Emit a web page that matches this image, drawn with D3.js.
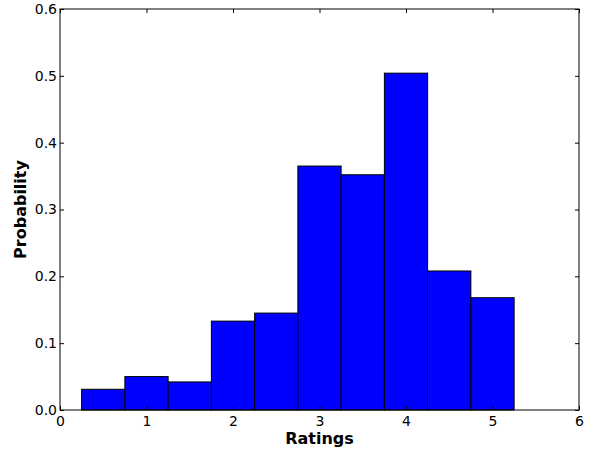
<!DOCTYPE html>
<html>
<head>
<meta charset="utf-8">
<script src="https://cdn.jsdelivr.net/npm/d3@7"></script>
<style>
  body { margin: 0; background: #fff; }
  svg { display: block; }
  text { font-family: "DejaVu Sans", sans-serif; }
</style>
</head>
<body>
<svg id="chart" width="595" height="450"></svg>
<script>
// Histogram of ratings: bin centres and normalised probabilities
const binCenters = [0.5, 1, 1.5, 2, 2.5, 3, 3.5, 4, 4.5, 5];
const probabilities = [0.031, 0.050, 0.042, 0.133, 0.145, 0.365, 0.352, 0.504, 0.208, 0.168];
const binWidth = 0.5;
const xTicks = [0, 1, 2, 3, 4, 5, 6];
const yTicks = [0.0, 0.1, 0.2, 0.3, 0.4, 0.5, 0.6];

const svg = d3.select("#chart");
const m = { left: 60, right: 16, top: 9, bottom: 40 };
const W = 595, H = 450;

const x = d3.scaleLinear().domain([0, 6]).range([m.left, W - m.right]);
const y = d3.scaleLinear().domain([0, 0.6]).range([H - m.bottom, m.top]);

// bars
svg.append("g").selectAll("rect")
  .data(binCenters)
  .join("rect")
  .attr("x", (d) => x(d - binWidth / 2))
  .attr("width", (d) => x(d + binWidth / 2) - x(d - binWidth / 2))
  .attr("y", (d, i) => y(probabilities[i]))
  .attr("height", (d, i) => y(0) - y(probabilities[i]))
  .attr("fill", "#0000ff")
  .attr("stroke", "#000")
  .attr("stroke-width", 1);

const tickLen = 4;
const fmtY = d3.format(".1f");

// axes with inward ticks on all four sides
const axisBottom = d3.axisBottom(x).tickValues(xTicks).tickFormat(d3.format("d"))
  .tickSizeInner(-tickLen).tickSizeOuter(0).tickPadding(6);
const axisTop = d3.axisTop(x).tickValues(xTicks).tickFormat("")
  .tickSizeInner(-tickLen).tickSizeOuter(0);
const axisLeft = d3.axisLeft(y).tickValues(yTicks).tickFormat(fmtY)
  .tickSizeInner(-tickLen).tickSizeOuter(0).tickPadding(3);
const axisRight = d3.axisRight(y).tickValues(yTicks).tickFormat("")
  .tickSizeInner(-tickLen).tickSizeOuter(0);

function style(g) {
  g.attr("font-family", null).attr("font-size", null);
  g.select(".domain").remove();
  g.selectAll(".tick line").attr("stroke", "#000");
  g.selectAll(".tick text")
    .attr("fill", "#000")
    .attr("font-family", "DejaVu Sans")
    .attr("font-size", 14);
}

svg.append("g").attr("transform", `translate(0,${y(0)})`).call(axisBottom).call(style);
svg.append("g").attr("transform", `translate(0,${y(0.6)})`).call(axisTop).call(style);
svg.append("g").attr("transform", `translate(${x(0)},0)`).call(axisLeft).call(style);
svg.append("g").attr("transform", `translate(${x(6)},0)`).call(axisRight).call(style);

// frame
svg.append("rect")
  .attr("x", x(0)).attr("y", y(0.6))
  .attr("width", x(6) - x(0)).attr("height", y(0) - y(0.6))
  .attr("fill", "none").attr("stroke", "#000").attr("stroke-width", 1);

// axis titles
svg.append("text")
  .attr("x", (x(0) + x(6)) / 2).attr("y", 444)
  .attr("text-anchor", "middle")
  .attr("font-size", 16).attr("font-weight", "bold")
  .text("Ratings");

svg.append("text")
  .attr("transform", `translate(26,${(y(0) + y(0.6)) / 2}) rotate(-90)`)
  .attr("text-anchor", "middle")
  .attr("font-size", 16).attr("font-weight", "bold")
  .text("Probability");
</script>
</body>
</html>
